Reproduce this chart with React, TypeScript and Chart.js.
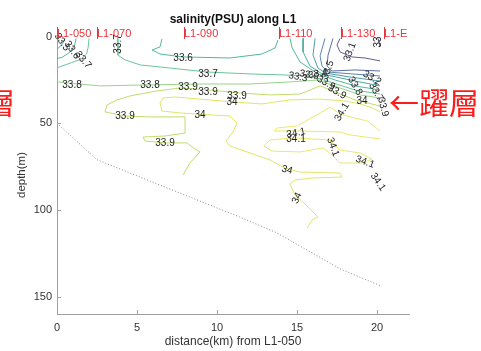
import React, { useEffect, useRef } from "react";
import { Chart, registerables } from "chart.js";
Chart.register(...registerables);

// axis ticks
const xTicks = [0, 5, 10, 15, 20];
const yTicks = [0, 50, 100, 150];

// station names along the top
const stationNames = ["L1-050", "L1-070", "L1-090", "L1-110", "L1-130", "L1-E"];
const stationKm = [0, 2.5, 7.94, 13.88, 17.73, 20.44];

// bottom depth (dotted)
const bathyKm = [0, 2.5, 11.4, 13.7, 15.8, 17.7, 20.3];
const bathyDepth = [50, 71, 104, 113, 124, 134, 144];

// contour lines: [distance km, depth m]
const line330 = [[20.06, 1], [20.19, 5.5]];
const line331 = [[17.69, 1], [17.5, 4.8], [17.69, 8.8], [18.44, 11.7], [19.25, 12.3], [20.19, 14]];
const line332 = [[17.25, 1], [16.94, 10.6], [16.88, 16.9], [17.19, 19.8], [18.63, 19.2], [20.19, 19.8]];
const line333 = [[16.75, 1], [16.44, 11.1], [16.56, 16.9], [16.94, 20.4], [18.44, 21.5], [20.19, 22.7]];
const line334 = [[16.13, 1], [16.0, 10.6], [16.31, 18.1], [16.75, 20.9], [18.31, 23.3], [20.19, 25.6]];
const line335 = [[15.38, 1], [15.38, 8.8], [15.81, 16.9], [16.56, 21.5], [18.31, 25], [20.19, 28.4]];
const line335c = [[0.5, 1], [0.35, 4], [0.1, 6.5], [0, 7]];
const line336a = [[6.56, 1.3], [6.44, 5.9], [5.94, 7.7], [6.44, 10], [7.88, 11.7], [10.81, 12.3], [12.81, 10], [13.63, 6.5], [13.81, 1.9]];
const line336b = [[14.56, 1], [14.7, 6.5], [15.19, 14.6], [16.31, 21.5], [17.38, 25], [18.63, 28.4], [20.19, 30.8]];
const line336c = [[1.2, 1], [1.1, 5], [0.8, 9], [0.3, 12], [0, 12.5]];
const line337 = [[3.8, 1], [3.8, 10.6], [4.25, 13.4], [5.2, 16.3], [7.06, 18.1], [9.4, 20.4], [12.06, 21.5], [14.25, 22.1], [15.8, 22.7], [17.06, 26.1], [18.63, 30.8], [20.19, 33.1]];
const line337c = [[2.0, 1], [1.95, 6], [1.85, 10], [1.5, 13], [0.9, 15], [0, 18]];
const line338 = [[0, 26.1], [2.69, 28.4], [5.19, 27.9], [8.94, 27.3], [12.06, 27.3], [14.56, 26.1], [16.31, 25], [17.69, 29.6], [18.94, 33.6], [20.19, 35.4]];
const line339 = [[7.88, 79.8], [8.31, 72.9], [8.94, 66.5], [8.44, 63.6], [8.13, 61.3], [6.75, 61.3], [5.5, 60.2], [5.38, 57.9], [6.75, 57.3], [8.0, 55.6], [8.0, 46.3], [5.81, 46.3], [4.25, 45.8], [3.0, 43.4], [3.13, 39.4], [3.75, 36.5], [4.56, 34.2], [6.25, 31.3], [7.69, 29.6], [9.56, 30.8], [11.44, 32.5], [13.31, 33.6], [15.19, 33.1], [16.44, 28.4], [17.38, 31.9], [18.63, 36.5], [20.19, 40]];
const line340 = [[20.19, 43.4], [19.69, 41.1], [18.94, 38.8], [18.0, 37.1], [16.44, 36.0], [14.56, 36.5], [12.81, 38.8], [11.0, 37.7], [8.94, 36.0], [7.38, 34.8], [6.63, 35.4], [6.44, 38.3], [6.56, 42.9], [7.69, 44.0], [10.81, 45.8], [11.25, 49.8], [11.0, 55.0], [10.56, 60.2], [10.81, 63.1], [12.06, 67.1], [13.31, 71.1], [14.25, 75.8], [15.19, 78.1], [17.69, 78.7], [17.81, 81.0], [16.0, 81.5], [14.88, 82.7], [14.56, 85.0], [14.88, 91.4], [15.5, 96.6], [16.0, 101.2], [16.31, 104.0], [15.94, 105.8], [15.63, 110.4]];
const line341a = [[20.19, 54.4], [19.38, 48.6], [18.31, 46.3], [17.69, 44.6], [17.06, 40.6], [16.44, 44.0], [15.0, 51.5], [13.75, 52.7], [13.56, 54.4], [15.19, 54.4], [17.69, 55.0], [18.31, 56.7], [20.19, 59.0]];
const line341b = [[17.06, 59.6], [14.75, 58.4], [13.31, 59.6], [12.94, 63.1], [13.44, 66.0], [15.19, 66.5], [16.63, 64.2], [17.19, 68.3], [17.69, 72.9], [19.06, 72.9], [19.69, 70.6], [18.94, 67.1], [17.69, 65.4], [17.38, 62.5], [17.06, 59.6]];

const contourLines = [line330, line331, line332, line333, line334, line335, line335c, line336a, line336b, line336c, line337, line337c, line338, line339, line340, line341a, line341b];
const contourLevels = [33.0, 33.1, 33.2, 33.3, 33.4, 33.5, 33.5, 33.6, 33.6, 33.6, 33.7, 33.7, 33.8, 33.9, 34.0, 34.1, 34.1];

// colour per level
const levelValues = [33.0, 33.1, 33.2, 33.3, 33.4, 33.5, 33.6, 33.7, 33.8, 33.9, 34.0, 34.1];
const levelColors = ["#5b3f8c", "#6a5a9a", "#5a6fa0", "#5a86a8", "#4f9aa8", "#48aca0", "#52b89e", "#6cc49a", "#98d48a", "#c0dc6a", "#e2e46a", "#ece86e"];

// contour labels
const labelText = ["33.5", "33.6", "33.7", "33.7", "33", "33.1", "33.6", "33.7", "33.8", "33.8", "33.9", "33.9", "33.9", "34", "33.9", "34", "33.9", "33.3", "33.6", "33.4", "33.5", "33.2", "33.9", "33.9", "33.8", "33.7", "34", "33.9", "34.1", "34.1", "34.1", "34.1", "34.1", "34.1", "34", "34"];
const labelKm = [0.31, 0.94, 1.63, 3.81, 20.06, 18.31, 7.88, 9.44, 0.94, 5.81, 8.19, 9.44, 11.25, 10.94, 4.25, 8.94, 6.75, 15.06, 15.75, 16.31, 16.94, 19.69, 16.81, 17.5, 18.63, 19.94, 19.06, 20.38, 17.81, 14.94, 14.94, 17.25, 19.25, 20.06, 14.38, 15.0];
const labelDepth = [3.1, 7.7, 13.4, 4.2, 3.1, 8.8, 12.3, 21.5, 27.9, 27.9, 29.0, 31.9, 34.2, 37.7, 45.8, 45.2, 61.3, 23.3, 22.1, 21.5, 19.2, 23.8, 26.7, 31.9, 28.4, 31.9, 37.1, 40.6, 43.4, 55.6, 59.0, 63.6, 72.3, 83.8, 76.9, 93.1];
const labelRot = [55, 55, 50, -90, -90, -70, 0, 0, 0, 0, 0, 0, 0, 0, 0, 0, 0, 10, 10, -10, -70, 30, 30, 30, 60, 60, 0, 75, -60, -10, 0, 70, 20, 55, 15, -65];

const FONT = '"Liberation Sans", Arial, Helvetica, sans-serif';

const colorFor = (lv: number) => {
  let best = 0;
  levelValues.forEach((v, i) => {
    if (Math.abs(v - lv) < Math.abs(levelValues[best] - lv)) best = i;
  });
  return levelColors[best];
};

const overlay = {
  id: "overlay",
  afterDraw(chart: any) {
    const ctx = chart.ctx as CanvasRenderingContext2D;
    const xs = chart.scales.x;
    const ys = chart.scales.y;
    const a = chart.chartArea;
    ctx.save();
    // inward ticks
    ctx.strokeStyle = "#a0a0a0";
    ctx.lineWidth = 1;
    ctx.beginPath();
    xTicks.forEach((v) => {
      const px = Math.round(xs.getPixelForValue(v)) + 0.5;
      ctx.moveTo(px, a.bottom);
      ctx.lineTo(px, a.bottom - 4);
    });
    yTicks.forEach((v) => {
      const py = Math.round(ys.getPixelForValue(v)) + 0.5;
      ctx.moveTo(a.left, py);
      ctx.lineTo(a.left + 4, py);
    });
    ctx.stroke();

    // contour labels
    ctx.fillStyle = "#222";
    ctx.font = "10px " + FONT;
    ctx.textAlign = "center";
    ctx.textBaseline = "middle";
    labelText.forEach((t, i) => {
      const px = xs.getPixelForValue(labelKm[i]);
      const py = ys.getPixelForValue(labelDepth[i]);
      ctx.save();
      ctx.translate(px, py);
      ctx.rotate((labelRot[i] * Math.PI) / 180);
      ctx.fillText(t, 0, 0);
      ctx.restore();
    });

    // station markers
    ctx.fillStyle = "#e8343a";
    ctx.strokeStyle = "#e8343a";
    ctx.font = "11px " + FONT;
    ctx.textAlign = "left";
    ctx.textBaseline = "alphabetic";
    stationNames.forEach((s, i) => {
      const px = Math.round(xs.getPixelForValue(stationKm[i])) + 0.5;
      ctx.beginPath();
      ctx.moveTo(px, a.top - 1);
      ctx.lineTo(px, a.top + 11);
      ctx.stroke();
      ctx.fillText(s, px - 0.5, a.top + 9);
    });

    // title
    ctx.fillStyle = "#111";
    ctx.font = "bold 12px " + FONT;
    ctx.textAlign = "center";
    ctx.fillText("salinity(PSU) along L1", (a.left + a.right) / 2, 23);

    // axis titles
    ctx.fillStyle = "#333";
    ctx.font = "12px " + FONT;
    ctx.textBaseline = "middle";
    ctx.fillText("distance(km) from L1-050", (a.left + a.right) / 2, 342);
    ctx.save();
    ctx.translate(22, 175);
    ctx.rotate(-Math.PI / 2);
    ctx.font = "11.5px " + FONT;
    ctx.fillText("depth(m)", 0, 0);
    ctx.restore();

    // red annotations
    ctx.fillStyle = "#ff1a1a";
    ctx.font = '30px "Noto Sans CJK TC", "Noto Sans CJK JP", sans-serif';
    ctx.textAlign = "left";
    ctx.fillText("←躍層", 389, 103);
    ctx.textAlign = "right";
    ctx.fillText("躍層", 15, 103);
    ctx.restore();
  },
};

export default function App() {
  const ref = useRef<HTMLCanvasElement | null>(null);
  useEffect(() => {
    if (!ref.current) return;
    const datasets: any[] = contourLines.map((ln, i) => ({
      data: ln.map((p) => ({ x: p[0], y: p[1] })),
      showLine: true,
      borderColor: colorFor(contourLevels[i]),
      borderWidth: 1,
      pointRadius: 0,
      fill: false,
      tension: 0,
    }));
    datasets.push({
      data: bathyKm.map((k, i) => ({ x: k, y: bathyDepth[i] })),
      showLine: true,
      borderColor: "#888",
      borderWidth: 1,
      borderDash: [1, 2],
      pointRadius: 0,
      fill: false,
    });
    const chart = new Chart(ref.current, {
      type: "scatter",
      data: { datasets },
      options: {
        animation: false,
        responsive: false,
        devicePixelRatio: 1,
        layout: { padding: { left: 0, right: 72, top: 28, bottom: 0 } },
        plugins: { legend: { display: false }, tooltip: { enabled: false }, title: { display: false } },
        scales: {
          x: {
            type: "linear",
            min: 0,
            max: 22,
            afterFit: (s: any) => {
              s.height = 37;
            },
            afterBuildTicks: (s: any) => {
              s.ticks = xTicks.map((v) => ({ value: v }));
            },
            grid: { display: true, drawOnChartArea: false, drawTicks: false },
            border: { display: true, color: "#a0a0a0", width: 1 },
            ticks: { color: "#333", font: { size: 11, family: FONT }, padding: 7, maxRotation: 0 },
          },
          y: {
            type: "linear",
            reverse: true,
            min: -5,
            max: 160,
            afterFit: (s: any) => {
              s.width = 57;
            },
            afterBuildTicks: (s: any) => {
              s.ticks = yTicks.map((v) => ({ value: v }));
            },
            grid: { display: true, drawOnChartArea: false, drawTicks: false },
            border: { display: true, color: "#a0a0a0", width: 1 },
            ticks: { color: "#333", font: { size: 11, family: FONT }, padding: 5 },
          },
        },
      },
      plugins: [overlay],
    });
    return () => chart.destroy();
  }, []);
  return (
    <div style={{ position: "fixed", left: 0, top: 0, width: 481, height: 351, background: "#fff" }}>
      <canvas ref={ref} width={481} height={351} style={{ display: "block" }} />
    </div>
  );
}
